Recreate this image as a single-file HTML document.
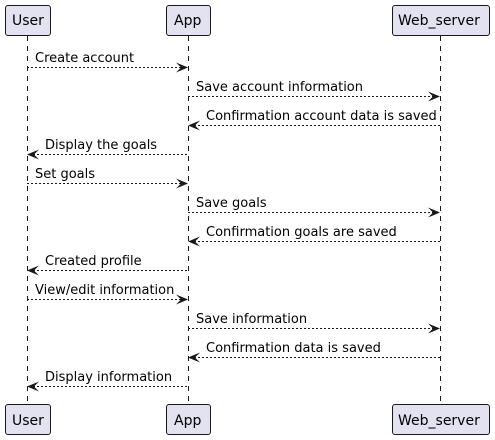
<!DOCTYPE html>
<html><head><meta charset="utf-8"><style>
html,body{margin:0;padding:0;background:#fff;}
svg{display:block;}
text{font-family:"DejaVu Sans","Liberation Sans",sans-serif;fill:#000;}
</style></head><body>
<svg width="495" height="440" viewBox="0 0 495 440" xmlns="http://www.w3.org/2000/svg">
<g stroke="#181818" stroke-width="1" stroke-dasharray="5,5">
<line x1="27.5" y1="36" x2="27.5" y2="404"/>
<line x1="188.5" y1="36" x2="188.5" y2="404"/>
<line x1="440.5" y1="36" x2="440.5" y2="404"/>
</g>
<g fill="#E2E2F0" stroke="#181818" stroke-width="1">
<rect x="5.5" y="5.5" width="45" height="30" rx="2.5"/>
<rect x="166.5" y="5.5" width="44" height="30" rx="2.5"/>
<rect x="392.5" y="5.5" width="97" height="30" rx="2.5"/>
<rect x="5.5" y="404.5" width="45" height="30" rx="2.5"/>
<rect x="166.5" y="404.5" width="44" height="30" rx="2.5"/>
<rect x="392.5" y="404.5" width="97" height="30" rx="2.5"/>
</g>
<g font-size="14">
<text x="12" y="25">User</text>
<text x="174" y="25">App</text>
<text x="398" y="25">Web_server</text>
<text x="12" y="425">User</text>
<text x="174" y="425">App</text>
<text x="398" y="425">Web_server</text>
</g>
<g stroke="#181818" stroke-width="1" stroke-dasharray="2,2" fill="none">
<line x1="27" y1="67.5" x2="186" y2="67.5"/>
<line x1="188" y1="96.5" x2="438" y2="96.5"/>
<line x1="190" y1="125.5" x2="440" y2="125.5"/>
<line x1="29" y1="154.5" x2="188" y2="154.5"/>
<line x1="27" y1="183.5" x2="186" y2="183.5"/>
<line x1="188" y1="212.5" x2="438" y2="212.5"/>
<line x1="190" y1="241.5" x2="440" y2="241.5"/>
<line x1="29" y1="270.5" x2="188" y2="270.5"/>
<line x1="27" y1="299.5" x2="186" y2="299.5"/>
<line x1="188" y1="328.5" x2="438" y2="328.5"/>
<line x1="190" y1="357.5" x2="440" y2="357.5"/>
<line x1="29" y1="386.5" x2="188" y2="386.5"/>
</g>
<g fill="#181818">
<polygon points="188,67.5 176,62.5 181,67.5 176,72.5"/>
<polygon points="440,96.5 428,91.5 433,96.5 428,101.5"/>
<polygon points="188,125.5 200,120.5 195,125.5 200,130.5"/>
<polygon points="27,154.5 39,149.5 34,154.5 39,159.5"/>
<polygon points="188,183.5 176,178.5 181,183.5 176,188.5"/>
<polygon points="440,212.5 428,207.5 433,212.5 428,217.5"/>
<polygon points="188,241.5 200,236.5 195,241.5 200,246.5"/>
<polygon points="27,270.5 39,265.5 34,270.5 39,275.5"/>
<polygon points="188,299.5 176,294.5 181,299.5 176,304.5"/>
<polygon points="440,328.5 428,323.5 433,328.5 428,333.5"/>
<polygon points="188,357.5 200,352.5 195,357.5 200,362.5"/>
<polygon points="27,386.5 39,381.5 34,386.5 39,391.5"/>
</g>
<g font-size="13">
<text x="35" y="62">Create account</text>
<text x="196" y="91">Save account information</text>
<text x="206" y="120">Confirmation account data is saved</text>
<text x="45" y="149">Display the goals</text>
<text x="35" y="178">Set goals</text>
<text x="196" y="207">Save goals</text>
<text x="206" y="236">Confirmation goals are saved</text>
<text x="45" y="265">Created profile</text>
<text x="35" y="294">View/edit information</text>
<text x="196" y="323">Save information</text>
<text x="206" y="352">Confirmation data is saved</text>
<text x="45" y="381">Display information</text>
</g>
</svg>
</body></html>
